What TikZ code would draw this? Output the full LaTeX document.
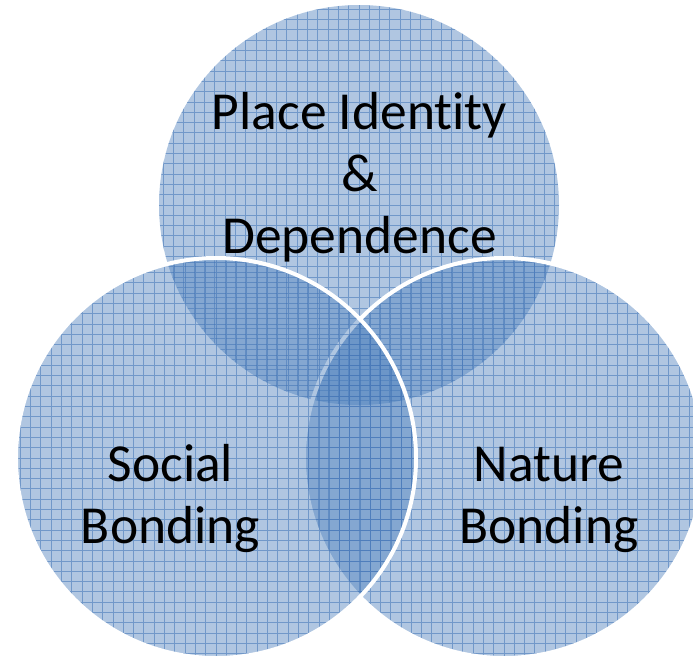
\documentclass[tikz,border=0pt]{standalone}
\usepackage{fontspec}
\setmainfont{Carlito}[Ligatures={NoCommon,NoRequired,NoContextual}]
\definecolor{vblue}{HTML}{4F81BD}
\definecolor{vgrid}{HTML}{3F72B5}
\begin{document}
\begin{tikzpicture}[x=1pt,y=-1pt,
  venn/.style={circle, minimum size=400pt, inner sep=0pt, outer sep=0pt,
    fill=vblue, fill opacity=0.45,
    path picture={\draw[vgrid, draw opacity=0.55, line width=0.9pt, step=10.3pt]
      (path picture bounding box.south west) grid (path picture bounding box.north east);}},
  rim/.style={draw=white, line width=4pt, draw opacity=1},
  lbl/.style={font=\fontsize{53.5}{62}\selectfont, inner sep=0pt, align=center, anchor=base, text=black}]
\useasboundingbox (0,0) rectangle (693,656);
\node[venn] (top) at (359,205) {};
\node[venn, rim] (right) at (504,458) {};
\node[venn, rim] (left) at (216,458) {};
\node[lbl] (ltop) at (359.5,253) {Place Identity\\\&\\Dependence};
\node[lbl] (lleft) at (170.5,543) {Social\\Bonding};
\node[lbl] (lright) at (549,543) {Nature\\Bonding};
\end{tikzpicture}
\end{document}
